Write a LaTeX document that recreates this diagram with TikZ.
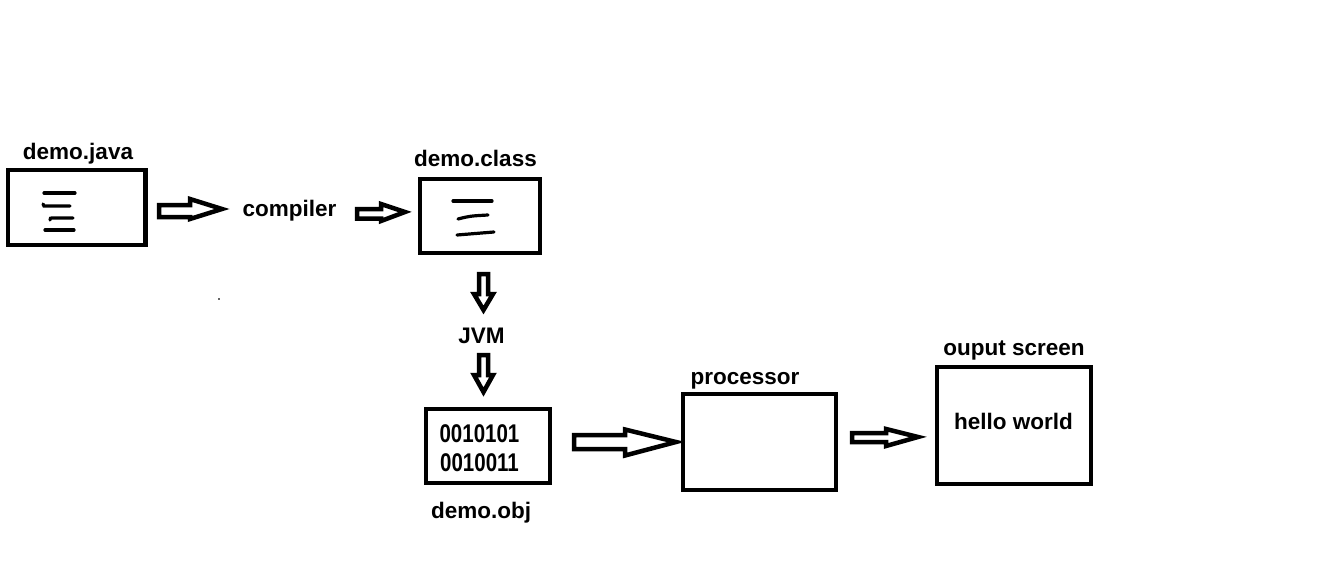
\documentclass[tikz,border=0pt]{standalone}
\usepackage{fontspec}
\usepackage{graphicx}
\setmainfont{Liberation Sans}
\newcommand{\tallbits}[1]{\scalebox{1}[1.25]{#1}}
\begin{document}
\begin{tikzpicture}[x=1pt,y=-1pt,
  box/.style={draw,line width=4.2pt,inner sep=0pt,minimum width=#1},
  lbl/.style={anchor=base,inner sep=0pt,font=\fontsize{22.5}{26}\selectfont\bfseries},
  bits/.style={lbl,font=\fontsize{20.5}{24}\selectfont\bfseries},
  blk/.style={draw,line width=4.5pt,line join=miter,fill=white},
  scrib/.style={line width=3.2pt,line cap=round}]
\useasboundingbox[fill=white] (0,0) rectangle (1342,578);

% boxes
\node[box=137.5pt,minimum height=75pt] (java) at (76.75,207.5) {};
\node[box=120pt,minimum height=74pt] (class) at (480,216) {};
\node[box=124pt,minimum height=74pt] (obj) at (488,446) {};
\node[box=153pt,minimum height=96pt] (proc) at (759.5,442) {};
\node[box=154pt,minimum height=117pt] (out) at (1014,425.5) {};

% labels
\node[lbl] (ljava) at (78,159) {demo.java};
\node[lbl] (lcomp) at (289.5,216) {compiler};
\node[lbl] (lclass) at (475.5,166) {demo.class};
\node[lbl] (ljvm) at (481.5,343) {JVM};
\node[bits] (b1) at (479.5,442) {\tallbits{0010101}};
\node[bits] (b2) at (479.5,471) {\tallbits{0010011}};
\node[lbl] (lobj) at (481,518) {demo.obj};
\node[lbl] (lproc) at (745,384) {processor};
\node[lbl] (lout) at (1014,355) {ouput screen};
\node[lbl] (hw) at (1013.5,429) {hello world};

% scribbles in demo.java
\draw[scrib] (44,193) -- (75,193);
\draw[scrib] (43,204) -- (44,206) -- (70,206);
\draw[scrib] (50,220) .. controls (50,218) .. (54,218) -- (73,218);
\draw[scrib] (45,230) -- (74,230);
% scribbles in demo.class
\draw[scrib] (453,201) -- (492,201);
\draw[scrib] (458,219) .. controls (470,216) .. (488,215);
\draw[scrib] (457,235) .. controls (475,233) .. (494,232);

% block arrows
\draw[blk] (159,205) -- (190,205) -- (190,199) -- (222,209) -- (190,219) -- (190,217) -- (159,217) -- cycle;
\draw[blk] (357,209) -- (381,209) -- (381,204) -- (405,212) -- (381,221) -- (381,218.5) -- (357,218.5) -- cycle;
\draw[blk] (479,274) -- (488,274) -- (488,294) -- (493,294) -- (483.5,310) -- (474,294) -- (479,294) -- cycle;
\draw[blk] (479,355) -- (488,355) -- (488,375) -- (493,375) -- (483.5,392) -- (474,375) -- (479,375) -- cycle;
\draw[blk] (574,435) -- (625,435) -- (625,429.5) -- (676,442) -- (625,455.5) -- (625,449) -- (574,449) -- cycle;
\draw[blk] (852,433) -- (886,433) -- (886,429) -- (918,437) -- (886,446) -- (886,442) -- (852,442) -- cycle;

% stray dot
\fill[black!60] (217.5,297.5) rectangle (219.5,299.5);
\end{tikzpicture}
\end{document}
